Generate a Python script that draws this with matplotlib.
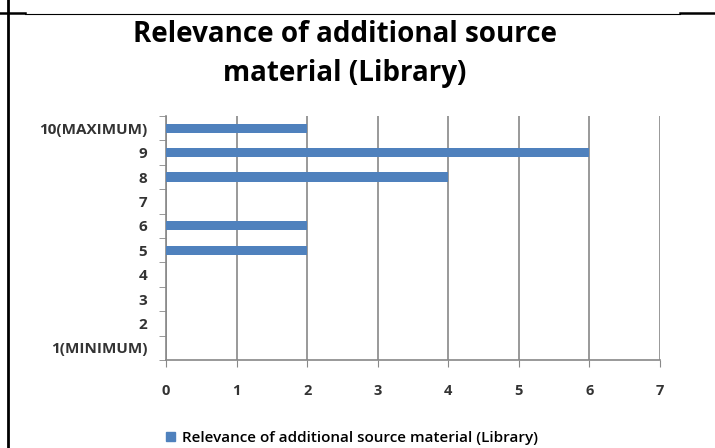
import matplotlib.pyplot as plt
import numpy as np
from matplotlib.lines import Line2D
from matplotlib.patches import Patch

categories = ['1(MINIMUM)', '2', '3', '4', '5', '6', '7', '8', '9', '10(MAXIMUM)']
values = [0, 0, 0, 0, 2, 2, 0, 4, 6, 2]
series_name = 'Relevance of additional source material (Library)'

plt.rcParams['font.family'] = ['Open Sans', 'DejaVu Sans']

fig = plt.figure(figsize=(7.15, 4.48), dpi=100)
ax = fig.add_axes([166 / 715, 1 - 360 / 448, (660 - 166) / 715, (360 - 116) / 448])

y = np.arange(len(categories))
ax.barh(y, values, height=0.38, color='#4F81BD', zorder=3)

ax.set_xlim(0, 7)
ax.set_ylim(-0.5, len(categories) - 0.5)
ax.set_xticks(range(8))
ax.set_yticks(y)
ax.set_yticklabels(categories, fontweight='bold')
ax.set_xticklabels([str(i) for i in range(8)], fontweight='bold')
ax.set_yticks(np.arange(-0.5, len(categories), 1), minor=True)
ax.tick_params(axis='y', which='major', length=0, labelsize=11, colors='#333333', pad=13.5)
ax.tick_params(axis='y', which='minor', length=5, color='#888888', direction='out')
ax.tick_params(axis='x', length=5, color='#888888', direction='out', labelsize=10.5,
               labelcolor='#333333', pad=12)
ax.grid(axis='x', color='#888888', linewidth=1.2, zorder=0)
for s in ['top', 'right']:
    ax.spines[s].set_visible(False)
for s in ['left', 'bottom']:
    ax.spines[s].set_color('#888888')
    ax.spines[s].set_linewidth(1.2)

fig.text(345 / 715, 1 - 54 / 448, 'Relevance of additional source\nmaterial (Library)',
         ha='center', va='center', fontsize=20, fontweight='bold', linespacing=1.5)

fig.legend(handles=[Patch(color='#4F81BD', label=series_name)], loc='center',
           bbox_to_anchor=(352 / 715, 1 - 438 / 448), frameon=False,
           prop={'weight': 'semibold', 'size': 11},
           handlelength=0.6, handleheight=0.6, handletextpad=0.5)

# table cell borders around the chart
fig.add_artist(Line2D([8 / 715, 8 / 715], [0, 1], color='black', linewidth=2))
fig.add_artist(Line2D([0, 25 / 715], [1 - 13 / 448, 1 - 13 / 448], color='black', linewidth=1.8))
fig.add_artist(Line2D([25 / 715, 680 / 715], [1 - 14 / 448, 1 - 14 / 448], color='black', linewidth=0.8))
fig.add_artist(Line2D([680 / 715, 1], [1 - 13 / 448, 1 - 13 / 448], color='black', linewidth=1.8))

fig.savefig('out.png', dpi=100)
